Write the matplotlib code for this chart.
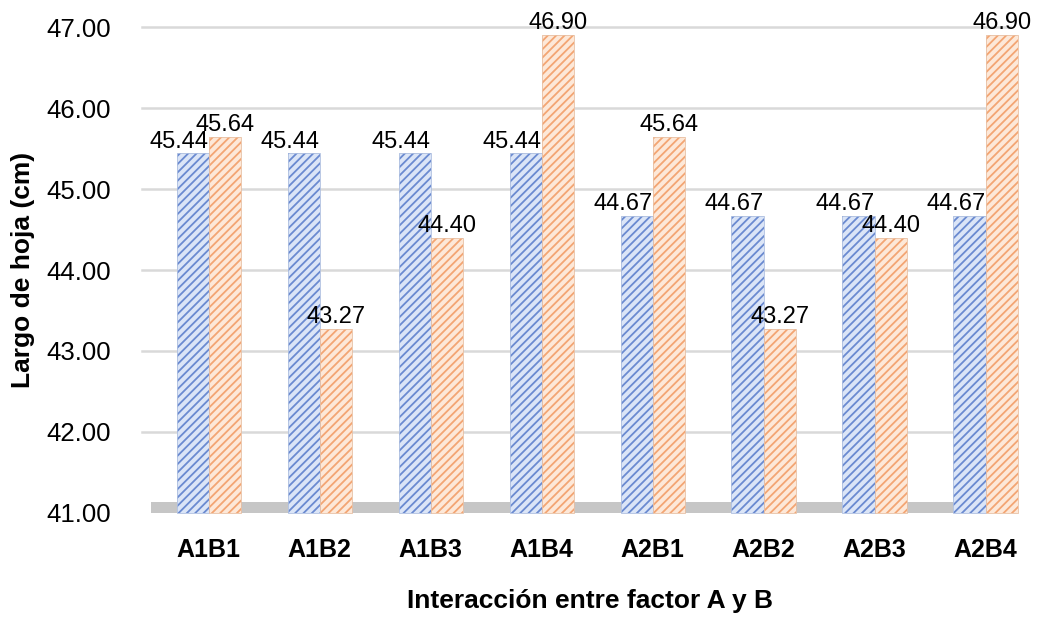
import numpy as np
import matplotlib.pyplot as plt

plt.rcParams['font.family'] = ['Liberation Sans', 'DejaVu Sans']
plt.rcParams['hatch.linewidth'] = 1.3

categorias = ['A1B1', 'A1B2', 'A1B3', 'A1B4', 'A2B1', 'A2B2', 'A2B3', 'A2B4']
factor_a = [45.44, 45.44, 45.44, 45.44, 44.67, 44.67, 44.67, 44.67]
factor_b = [45.64, 43.27, 44.40, 46.90, 45.64, 43.27, 44.40, 46.90]
ticks_y = [41, 42, 43, 44, 45, 46, 47]

base = 41.0
ancho = 0.29
x = np.arange(len(categorias))

fig = plt.figure(figsize=(10.49, 6.2), dpi=100)
ax = fig.add_axes([140 / 1049, 99 / 620, 900 / 1049, 502 / 620])

# lineas de cuadricula y piso gris
for t in ticks_y[1:]:
    ax.plot([-0.6, 7.22], [t, t], color='#d9d9d9', lw=1.8, zorder=0)
ax.fill_between([-0.52, 7.27], [41.0, 41.0], [41.13, 41.13],
                color='#c6c6c6', lw=0, zorder=0)

def barras(pos, vals, fondo, trama, borde):
    alturas = [v - base for v in vals]
    ax.bar(pos, alturas, ancho, bottom=base, color=fondo, lw=0, zorder=2)
    ax.bar(pos, alturas, ancho, bottom=base, facecolor='none',
           edgecolor=trama, hatch='////', lw=0, zorder=3)
    ax.bar(pos, alturas, ancho, bottom=base, facecolor='none',
           edgecolor=borde, lw=0.6, zorder=3)

barras(x - ancho / 2, factor_a, '#dbe5f7', '#6a8ad0', '#aebfe0')
barras(x + ancho / 2, factor_b, '#fde8d8', '#f3a573', '#e8c0a4')

for xi, v in zip(x, factor_a):
    ax.text(xi - ancho / 2 - 0.12, v + 0.01, f'{v:.2f}', ha='center',
            va='bottom', fontsize=17, zorder=5)
for xi, v in zip(x, factor_b):
    ax.text(xi + ancho / 2, v + 0.01, f'{v:.2f}', ha='center',
            va='bottom', fontsize=17, zorder=5)

ax.set_xlim(-0.62, 7.49)
ax.set_ylim(40.9, 47.1)
ax.set_yticks(ticks_y)
ax.set_yticklabels([f'{t:.2f}' for t in ticks_y], fontsize=18.5)
ax.set_xticks(x)
ax.set_xticklabels(categorias, fontsize=18, fontweight='bold')
ax.tick_params(length=0)
ax.tick_params(axis='y', pad=21)
ax.tick_params(axis='x', pad=12)
for s in ax.spines.values():
    s.set_visible(False)

ax.set_ylabel('Largo de hoja (cm)', fontsize=19, fontweight='bold', labelpad=8)
ax.set_xlabel('Interacción entre factor A y B', fontsize=19, fontweight='bold',
              labelpad=20)

fig.savefig('out.png', dpi=100)
